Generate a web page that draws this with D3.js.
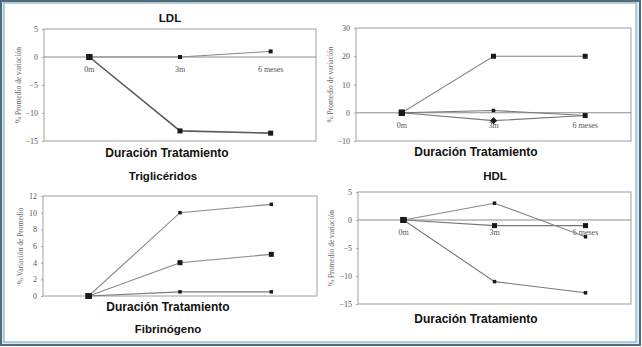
<!DOCTYPE html>
<html>
<head>
<meta charset="utf-8">
<script src="https://cdn.jsdelivr.net/npm/d3@7"></script>
<style>
  html, body { margin: 0; padding: 0; background: #fff; }
  svg { display: block; }
</style>
</head>
<body>
<svg id="chart" width="642" height="347"></svg>
<script>
// Treatment time points shared by all four panels
const categories = ["0m", "3m", "6 meses"];

// Top-left panel: LDL
const ldlMain = [0, -13.2, -13.6];
const ldlAlt = [0, 0, 1];
const ldlTicks = [5, 0, -5, -10, -15];

// Top-right panel
const trMain = [0, 20, 20];
const trAlt1 = [0, 0.8, -1];
const trAlt2 = [0, -2.8, -1];
const trTicks = [30, 20, 10, 0, -10];

// Bottom-left panel: Triglicéridos
const tgHigh = [0, 10, 11];
const tgMid = [0, 4, 5];
const tgLow = [0, 0.5, 0.5];
const tgTicks = [12, 10, 8, 6, 4, 2, 0];

// Bottom-right panel: HDL
const hdlUp = [0, 3, -3];
const hdlFlat = [0, -1, -1];
const hdlDown = [0, -11, -13];
const hdlTicks = [5, 0, -5, -10, -15];

const svg = d3.select("#chart");

// Outer frame
svg.append("rect").attr("x", 1).attr("y", 1).attr("width", 639).attr("height", 344)
  .attr("fill", "#d6eaf1").attr("stroke", "#4e6c7b").attr("stroke-width", 2);
svg.append("rect").attr("x", 4).attr("y", 3).attr("width", 632).attr("height", 339)
  .attr("fill", "#ffffff").attr("stroke", "#7d9fae").attr("stroke-width", 1);

const serif = "'Liberation Serif', 'DejaVu Serif', serif";
const sans = "'Liberation Sans', Arial, sans-serif";

function panel(cfg) {
  const g = svg.append("g");
  const x = d3.scalePoint().domain(categories).range([cfg.x0, cfg.x1]).padding(cfg.pad);
  const y = d3.scaleLinear().domain(cfg.domain).range([cfg.y1, cfg.y0]);

  // plot box
  g.append("rect").attr("x", cfg.x0).attr("y", cfg.y0)
    .attr("width", cfg.x1 - cfg.x0).attr("height", cfg.y1 - cfg.y0)
    .attr("fill", "#fff").attr("stroke", "#a0a0a0").attr("stroke-width", 1);

  // y axis with small ticks
  const axis = d3.axisLeft(y).tickValues(cfg.ticks).tickSize(2).tickPadding(4)
    .tickFormat(d3.format("d"));
  const ag = g.append("g").attr("transform", `translate(${cfg.x0},0)`).call(axis);
  ag.select(".domain").remove();
  ag.selectAll(".tick line").attr("stroke", "#aaa");
  ag.selectAll(".tick text").attr("fill", "#555").style("font-family", serif).style("font-size", "8px");

  // zero reference line
  if (cfg.domain[0] < 0) {
    g.append("line").attr("x1", cfg.x0).attr("x2", cfg.x1)
      .attr("y1", y(0)).attr("y2", y(0)).attr("stroke", "#8c8c8c").attr("stroke-width", 1);
  }

  // category labels under the zero line
  if (cfg.catLabels) {
    g.selectAll(".cat").data(categories).join("text")
      .attr("x", d => x(d)).attr("y", y(0) + 15)
      .attr("text-anchor", "middle").attr("fill", "#555")
      .style("font-family", serif).style("font-size", "8px").text(d => d);
  }

  const line = d3.line().x((d, i) => x(categories[i])).y(d => y(d));
  cfg.series.forEach(s => {
    g.append("path").datum(s.values).attr("d", line).attr("fill", "none")
      .attr("stroke", s.color || "#666").attr("stroke-width", s.width || 1.1);
    g.selectAll(null).data(s.values).join("rect")
      .attr("x", (d, i) => x(categories[i]) - (i === 0 ? 3 : s.size / 2))
      .attr("y", (d, i) => y(d) - (i === 0 ? 3 : s.size / 2))
      .attr("width", (d, i) => i === 0 ? 6 : s.size)
      .attr("height", (d, i) => i === 0 ? 6 : s.size)
      .attr("transform", (d, i) => s.diamond && s.diamond.includes(i)
        ? `rotate(45 ${x(categories[i])} ${y(d)})` : null)
      .attr("fill", "#1a1a1a");
  });

  // y axis title
  g.append("text")
    .attr("transform", `translate(${cfg.ylabX},${(cfg.y0 + cfg.y1) / 2}) rotate(-90)`)
    .attr("text-anchor", "middle").attr("fill", "#666")
    .style("font-family", serif).style("font-size", "7.5px").text(cfg.ylab);

  // x axis title
  g.append("text").attr("x", cfg.xtX).attr("y", cfg.xtY).attr("text-anchor", "middle")
    .attr("fill", "#111").style("font-family", sans).style("font-weight", "bold")
    .style("font-size", "12px").text("Duración Tratamiento");
}

panel({
  x0: 44, x1: 316, y0: 29, y1: 141, pad: 0.5, domain: [-15, 5], ticks: ldlTicks,
  catLabels: true, ylab: "% Promedio de variación", ylabX: 21, xtX: 167, xtY: 157,
  series: [
    { values: ldlAlt, size: 4, width: 1, color: "#888" },
    { values: ldlMain, size: 5, width: 1.6, color: "#5a5a5a" }
  ]
});

panel({
  x0: 356, x1: 631, y0: 28, y1: 141, pad: 0.5, domain: [-10, 30], ticks: trTicks,
  catLabels: true, ylab: "% Promedio de variación", ylabX: 333, xtX: 476, xtY: 156,
  series: [
    { values: trAlt1, size: 3.5, width: 1.1, color: "#777" },
    { values: trAlt2, size: 5, width: 1.1, color: "#777", diamond: [1] },
    { values: trMain, size: 5, width: 1.1, color: "#888" }
  ]
});

panel({
  x0: 43, x1: 317, y0: 196, y1: 296, pad: 0.5, domain: [0, 12], ticks: tgTicks,
  catLabels: false, ylab: "% Variación de Promedio", ylabX: 23, xtX: 168, xtY: 311,
  series: [
    { values: tgLow, size: 3.5, width: 1.1, color: "#777" },
    { values: tgMid, size: 5, width: 1.1, color: "#888" },
    { values: tgHigh, size: 3.5, width: 1.1, color: "#888" }
  ]
});

panel({
  x0: 358, x1: 631, y0: 192, y1: 304, pad: 0.5, domain: [-15, 5], ticks: hdlTicks,
  catLabels: true, ylab: "% Promedio de variación", ylabX: 334, xtX: 476, xtY: 323,
  series: [
    { values: hdlFlat, size: 5, width: 1.1, color: "#777" },
    { values: hdlUp, size: 3.5, width: 1.1, color: "#888" },
    { values: hdlDown, size: 3.5, width: 1.1, color: "#777" }
  ]
});

// Panel titles
const titles = [
  { t: "LDL", x: 170, y: 22 },
  { t: "Triglicéridos", x: 163, y: 180 },
  { t: "HDL", x: 495, y: 180 },
  { t: "Fibrinógeno", x: 168, y: 333 }
];
svg.selectAll(".ptitle").data(titles).join("text")
  .attr("x", d => d.x).attr("y", d => d.y).attr("text-anchor", "middle")
  .attr("fill", "#111").style("font-family", sans).style("font-weight", "bold")
  .style("font-size", "11.5px").text(d => d.t);
</script>
</body>
</html>
